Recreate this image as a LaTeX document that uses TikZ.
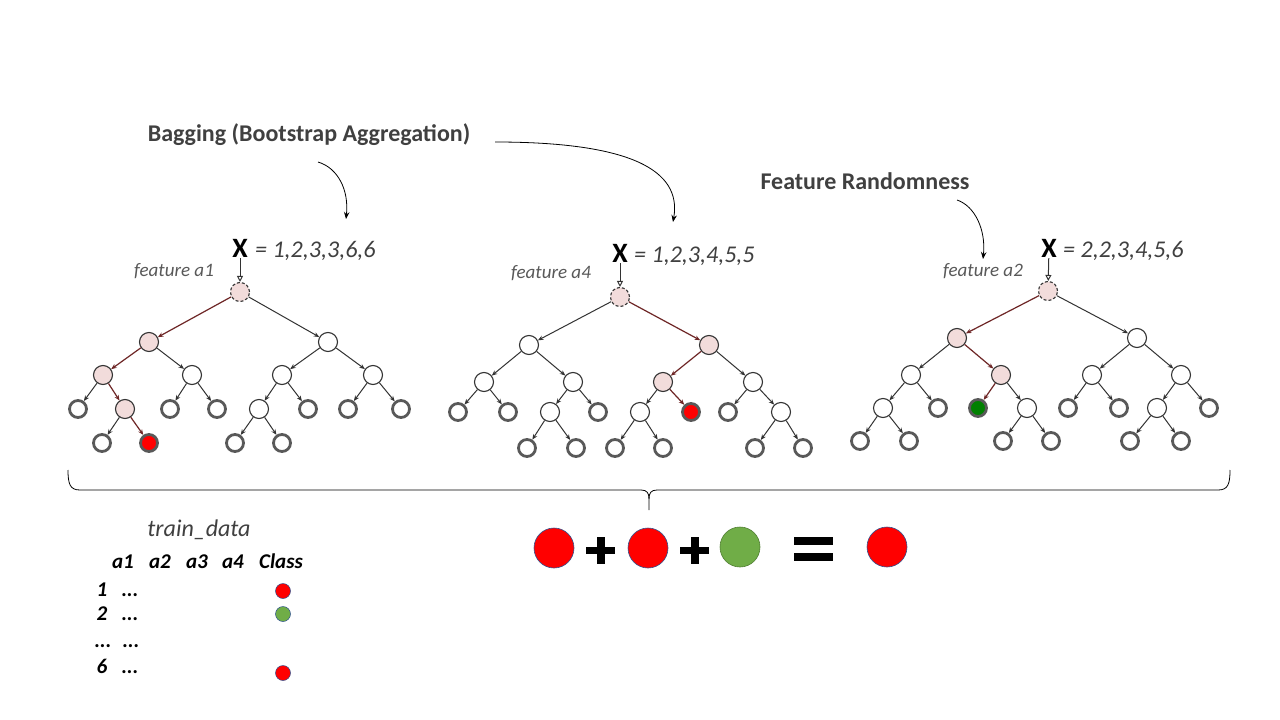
\documentclass[tikz,border=0pt]{standalone}
\usepackage{fontspec}
\setmainfont{Carlito}
\usetikzlibrary{arrows.meta}
\definecolor{pinkf}{HTML}{F2DCDB}
\definecolor{edgec}{HTML}{333333}
\definecolor{redge}{HTML}{6E2626}
\definecolor{leafb}{HTML}{595959}
\definecolor{grn}{HTML}{70AD47}
\definecolor{grnb}{HTML}{507E32}
\definecolor{dkgrn}{HTML}{008000}
\definecolor{bordb}{HTML}{2F528F}
\definecolor{txt}{HTML}{404040}
\tikzset{
  inode/.style={circle, draw=edgec, line width=1.1pt, fill=white, minimum size=19pt, inner sep=0pt},
  pnode/.style={inode, fill=pinkf},
  rootnode/.style={pnode, dashed, dash pattern=on 3pt off 2pt},
  leaf/.style={circle, draw=leafb, line width=2.8pt, fill=white, minimum size=17pt, inner sep=0pt},
  redleaf/.style={leaf, fill=red},
  grnleaf/.style={leaf, fill=dkgrn},
  ed/.style={draw=edgec, line width=1pt, -{Stealth[length=5.5pt,width=4.5pt]}},
  redpath/.style={draw=redge, line width=1.2pt, -{Stealth[length=5.5pt,width=4.5pt]}},
  xlab/.style={font=\bfseries\fontsize{28}{28}\selectfont, inner sep=1pt, anchor=base},
  xval/.style={font=\itshape\fontsize{24}{24}\selectfont, text=txt, inner sep=0pt, anchor=base west},
  feat/.style={font=\itshape\fontsize{19}{19}\selectfont, text=leafb, inner sep=0pt, anchor=base},
  xarrow/.style={draw=edgec, line width=1pt, -{Triangle[open,length=6pt,width=6pt]}},
  head/.style={font=\bfseries\fontsize{24}{24}\selectfont, text=txt, inner sep=0pt},
  curv/.style={draw=black, line width=0.8pt, -{Stealth[length=7pt,width=5.5pt]}},
  bigc/.style={circle, minimum size=40pt, inner sep=0pt, fill=red, draw=bordb, line width=0.6pt},
  smallc/.style={circle, minimum size=15pt, inner sep=0pt, fill=red, draw=bordb, line width=0.5pt},
  tab/.style={font=\bfseries\itshape\fontsize{21}{21}\selectfont, inner sep=0pt, anchor=base},
}
\begin{document}
\begin{tikzpicture}[x=1pt,y=-1pt]
\useasboundingbox[fill=white] (0,0) rectangle (1280,720);

% ---------- headings and curved arrows ----------
\node[head] (bag) at (309,135) {Bagging (Bootstrap Aggregation)};
\node[head] (feat) at (865,181) {Feature Randomness};
\coordinate (b1s) at (318,162);
\coordinate (b1e) at (346,219);
\coordinate (b2s) at (495,142);
\coordinate (b2e) at (673,222);
\coordinate (f1s) at (957,200);
\coordinate (f1e) at (983,259);
\draw[curv] (b1s) .. controls (338,168) and (349,190) .. (b1e);
\draw[curv] (b2s) .. controls (630,142) and (682,170) .. (b2e);
\draw[curv] (f1s) .. controls (975,206) and (986,230) .. (f1e);

% ---------- tree 1 ----------
\node[rootnode] (t1r) at (240,292) {};
\node[pnode] (t1a) at (149,342) {};
\node[inode] (t1b) at (328,342) {};
\node[pnode] (t1c) at (103,375) {};
\node[inode] (t1d) at (192,375) {};
\node[inode] (t1e) at (282,375) {};
\node[inode] (t1f) at (373,375) {};
\node[leaf] (t1l1) at (78,409) {};
\node[pnode] (t1g) at (125,409) {};
\node[leaf] (t1l2) at (170,409) {};
\node[leaf] (t1l3) at (217,409) {};
\node[inode] (t1h) at (259,409) {};
\node[leaf] (t1l4) at (308,409) {};
\node[leaf] (t1l5) at (348,409) {};
\node[leaf] (t1l6) at (401,409) {};
\node[leaf] (t1l7) at (102,443) {};
\node[redleaf] (t1l8) at (149,443) {};
\node[leaf] (t1l9) at (235,443) {};
\node[leaf] (t1l10) at (282,443) {};
\draw[redpath] (t1r) -- (t1a);
\draw[ed] (t1r) -- (t1b);
\draw[redpath] (t1a) -- (t1c);
\draw[ed] (t1a) -- (t1d);
\draw[ed] (t1b) -- (t1e);
\draw[ed] (t1b) -- (t1f);
\draw[ed] (t1c) -- (t1l1);
\draw[redpath] (t1c) -- (t1g);
\draw[ed] (t1d) -- (t1l2);
\draw[ed] (t1d) -- (t1l3);
\draw[ed] (t1e) -- (t1h);
\draw[ed] (t1e) -- (t1l4);
\draw[ed] (t1f) -- (t1l5);
\draw[ed] (t1f) -- (t1l6);
\draw[ed] (t1g) -- (t1l7);
\draw[redpath] (t1g) -- (t1l8);
\draw[ed] (t1h) -- (t1l9);
\draw[ed] (t1h) -- (t1l10);
\node[xlab] (x1) at (240,257) {X};
\node[xval] (x1v) at (255,257) {= 1,2,3,3,6,6};
\node[feat] (f1) at (174,276) {feature a1};
\draw[xarrow] (x1) -- (t1r);

% ---------- tree 2 ----------
\node[rootnode] (t2r) at (620,297) {};
\node[inode] (t2a) at (529,345) {};
\node[pnode] (t2b) at (709,345) {};
\node[inode] (t2c) at (484,382) {};
\node[inode] (t2d) at (573,382) {};
\node[pnode] (t2e) at (663,382) {};
\node[inode] (t2f) at (753,382) {};
\node[leaf] (t2l1) at (458,412) {};
\node[leaf] (t2l2) at (508,412) {};
\node[inode] (t2g) at (550,412) {};
\node[leaf] (t2l3) at (598,412) {};
\node[inode] (t2h) at (640,412) {};
\node[redleaf] (t2l4) at (691,412) {};
\node[leaf] (t2l5) at (728,412) {};
\node[inode] (t2i) at (781,412) {};
\node[leaf] (t2l6) at (527,448) {};
\node[leaf] (t2l7) at (576,448) {};
\node[leaf] (t2l8) at (615,448) {};
\node[leaf] (t2l9) at (663,448) {};
\node[leaf] (t2l10) at (755,448) {};
\node[leaf] (t2l11) at (803,448) {};
\draw[ed] (t2r) -- (t2a);
\draw[redpath] (t2r) -- (t2b);
\draw[ed] (t2a) -- (t2c);
\draw[ed] (t2a) -- (t2d);
\draw[redpath] (t2b) -- (t2e);
\draw[ed] (t2b) -- (t2f);
\draw[ed] (t2c) -- (t2l1);
\draw[ed] (t2c) -- (t2l2);
\draw[ed] (t2d) -- (t2g);
\draw[ed] (t2d) -- (t2l3);
\draw[ed] (t2e) -- (t2h);
\draw[redpath] (t2e) -- (t2l4);
\draw[ed] (t2f) -- (t2l5);
\draw[ed] (t2f) -- (t2i);
\draw[ed] (t2g) -- (t2l6);
\draw[ed] (t2g) -- (t2l7);
\draw[ed] (t2h) -- (t2l8);
\draw[ed] (t2h) -- (t2l9);
\draw[ed] (t2i) -- (t2l10);
\draw[ed] (t2i) -- (t2l11);
\node[xlab] (x2) at (620,262) {X};
\node[xval] (x2v) at (634,262) {= 1,2,3,4,5,5};
\node[feat] (f2) at (551,278) {feature a4};
\draw[xarrow] (x2) -- (t2r);

% ---------- tree 3 ----------
\node[rootnode] (t3r) at (1048,291) {};
\node[pnode] (t3a) at (957,338) {};
\node[inode] (t3b) at (1137,338) {};
\node[inode] (t3c) at (911,375) {};
\node[pnode] (t3d) at (1001,375) {};
\node[inode] (t3e) at (1092,375) {};
\node[inode] (t3f) at (1181,375) {};
\node[inode] (t3g) at (883,408) {};
\node[leaf] (t3l1) at (938,408) {};
\node[grnleaf] (t3l2) at (978,408) {};
\node[inode] (t3h) at (1027,408) {};
\node[leaf] (t3l3) at (1068,408) {};
\node[leaf] (t3l4) at (1119,408) {};
\node[inode] (t3i) at (1157,408) {};
\node[leaf] (t3l5) at (1209,408) {};
\node[leaf] (t3l6) at (860,441) {};
\node[leaf] (t3l7) at (909,441) {};
\node[leaf] (t3l8) at (1003,441) {};
\node[leaf] (t3l9) at (1051,441) {};
\node[leaf] (t3l10) at (1130,441) {};
\node[leaf] (t3l11) at (1181,441) {};
\draw[redpath] (t3r) -- (t3a);
\draw[ed] (t3r) -- (t3b);
\draw[ed] (t3a) -- (t3c);
\draw[redpath] (t3a) -- (t3d);
\draw[ed] (t3b) -- (t3e);
\draw[ed] (t3b) -- (t3f);
\draw[ed] (t3c) -- (t3g);
\draw[ed] (t3c) -- (t3l1);
\draw[redpath] (t3d) -- (t3l2);
\draw[ed] (t3d) -- (t3h);
\draw[ed] (t3e) -- (t3l3);
\draw[ed] (t3e) -- (t3l4);
\draw[ed] (t3f) -- (t3i);
\draw[ed] (t3f) -- (t3l5);
\draw[ed] (t3g) -- (t3l6);
\draw[ed] (t3g) -- (t3l7);
\draw[ed] (t3h) -- (t3l8);
\draw[ed] (t3h) -- (t3l9);
\draw[ed] (t3i) -- (t3l10);
\draw[ed] (t3i) -- (t3l11);
\node[xlab] (x3) at (1049,257) {X};
\node[xval] (x3v) at (1063,257) {= 2,2,3,4,5,6};
\node[feat] (f3) at (983,276) {feature a2};
\draw[xarrow] (x3) -- (t3r);

% ---------- brace ----------
\coordinate (brl) at (68,470);
\coordinate (brr) at (1230,470);
\coordinate (brm) at (649,510);
\draw[line width=0.8pt] (brl) .. controls (68,484) and (70,490) .. (80,490) -- (641,490)
   .. controls (647,490) and (649,493) .. (649,499) -- (brm);
\draw[line width=0.8pt] (brr) .. controls (1230,484) and (1228,490) .. (1218,490) -- (657,490)
   .. controls (651,490) and (649,493) .. (649,499);

% ---------- vote equation ----------
\node[bigc] (v1) at (554,548) {};
\node[bigc] (v2) at (648,548) {};
\node[bigc, fill=grn, draw=grnb] (v3) at (740,547) {};
\node[bigc] (v4) at (887,547) {};
\fill (586,547) rectangle (615,554);
\fill (596.5,537) rectangle (604.5,564);
\fill (680,547) rectangle (709,554);
\fill (690.5,537) rectangle (698.5,564);
\fill (794,537) rectangle (833,545);
\fill (794,553) rectangle (833,561);

% ---------- train data ----------
\node[font=\itshape\fontsize{24}{24}\selectfont, text=txt] (td) at (199,530) {train\_data};
\node[tab] (h1) at (123,568) {a1};
\node[tab] (h2) at (160,568) {a2};
\node[tab] (h3) at (197,568) {a3};
\node[tab] (h4) at (233,568) {a4};
\node[tab] (h5) at (281,568) {Class};
\node[tab] (r1) at (102,596) {1};
\node[tab] (r1d) at (130,596) {...};
\node[tab] (r2) at (102,620) {2};
\node[tab] (r2d) at (130,620) {...};
\node[tab] (r3) at (103,647) {...};
\node[tab] (r3d) at (131,647) {...};
\node[tab] (r4) at (102,673) {6};
\node[tab] (r4d) at (130,673) {...};
\node[smallc] (c1) at (283,591) {};
\node[smallc, fill=grn, draw=bordb] (c2) at (283,614) {};
\node[smallc] (c3) at (283,673) {};
\end{tikzpicture}
\end{document}
